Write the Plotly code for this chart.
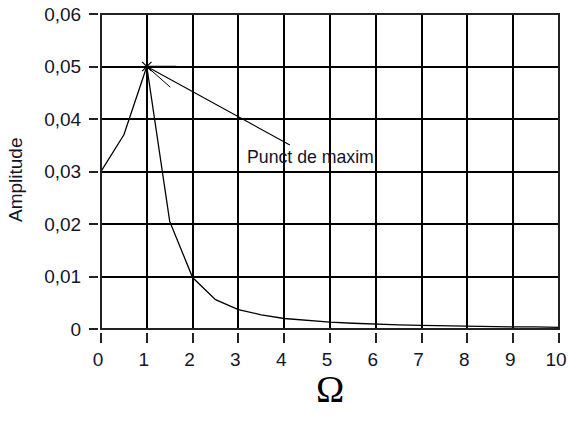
import plotly.graph_objects as go

# Data
omega = [0, 0.5, 1.0, 1.5, 2.0, 2.5, 3.0, 3.5, 4.0, 4.5, 5.0, 5.5, 6.0, 6.5, 7.0, 7.5, 8.0, 8.5, 9.0, 9.5, 10.0]
amplitude = [0.030, 0.037, 0.050, 0.0205, 0.0098, 0.0056, 0.0037, 0.0027, 0.0020, 0.0016, 0.0013,
             0.0011, 0.0009, 0.0008, 0.0007, 0.0006, 0.0005, 0.0005, 0.0004, 0.0004, 0.0003]
x_ticks = list(range(0, 11))
y_ticks = [0, 0.01, 0.02, 0.03, 0.04, 0.05, 0.06]
annotation_text = "Punct de maxim"
x_title = "Ω"
y_title = "Amplitude"

peak_i = amplitude.index(max(amplitude))
peak_x, peak_y = omega[peak_i], amplitude[peak_i]

W, H = 568, 421
ml, mr, mt, mb = 98, 9, 14, 89
pw, ph = W - ml - mr, H - mt - mb
gap = 3
tickcol = "#14142a"

fig = go.Figure()
fig.add_trace(go.Scatter(x=omega, y=amplitude, mode="lines",
                         line=dict(color="black", width=1.3), hoverinfo="skip", showlegend=False))
fig.add_trace(go.Scatter(x=[peak_x], y=[peak_y], mode="markers",
                         marker=dict(symbol="asterisk-open", size=11, color="black",
                                     line=dict(color="black", width=1.2)),
                         showlegend=False))

# label with arrow line to the maximum
fig.add_annotation(x=peak_x, y=peak_y, xref="x", yref="y", text=annotation_text,
                   showarrow=True, ax=164, ay=90, arrowhead=0, arrowwidth=1.1,
                   arrowcolor="black", standoff=0,
                   font=dict(family="Liberation Sans", size=17.7, color=tickcol))
# open arrowhead arms
for dx, dy, w in [(31, 0, 1.6), (25, 22, 1.0)]:
    fig.add_annotation(x=peak_x, y=peak_y, xref="x", yref="y", text="",
                       showarrow=True, ax=dx, ay=dy, arrowhead=0, arrowwidth=w,
                       arrowcolor="black", standoff=0)

# axis titles
fig.add_annotation(xref="paper", yref="paper", x=(16 - ml) / pw, y=0.478, text=y_title,
                   showarrow=False, textangle=-90, xanchor="center", yanchor="middle",
                   font=dict(family="Liberation Sans", size=19, color=tickcol))
fig.add_annotation(xref="paper", yref="paper", x=0.503, y=(332 - 389) / ph, text=x_title,
                   showarrow=False, xanchor="center", yanchor="middle",
                   font=dict(family="Liberation Serif", size=38, color="black"))

fig.add_shape(type="rect", xref="x domain", yref="y domain", x0=0, x1=1, y0=0, y1=1,
              line=dict(color="#222222", width=2), layer="above")

fig.update_layout(
    width=W, height=H,
    margin=dict(l=ml, r=mr, t=mt, b=mb),
    paper_bgcolor="white", plot_bgcolor="white",
    separators=",.",
    font=dict(family="Liberation Sans", color=tickcol),
    xaxis=dict(range=[0, 10], tickvals=x_ticks, domain=[gap / pw, 1],
               anchor="free", position=0,
               showgrid=True, gridcolor="black", gridwidth=2, zeroline=False, showline=False,
               ticks="outside", ticklen=10, tickwidth=2, tickcolor="#222222",
               ticklabelshift=-3, ticklabeloverflow="allow",
               tickfont=dict(size=19, color=tickcol), automargin=False),
    yaxis=dict(range=[0, 0.06], tickvals=y_ticks, domain=[gap / ph, 1],
               anchor="free", position=0,
               showgrid=True, gridcolor="black", gridwidth=2, zeroline=False, showline=False,
               ticks="outside", ticklen=9, tickwidth=2, tickcolor="#222222",
               ticklabelstandoff=4, ticklabeloverflow="allow",
               tickfont=dict(size=19, color=tickcol), automargin=False),
)

fig.write_html("out.html", config={"displayModeBar": False},
               post_script="document.body.style.margin='0px';")
